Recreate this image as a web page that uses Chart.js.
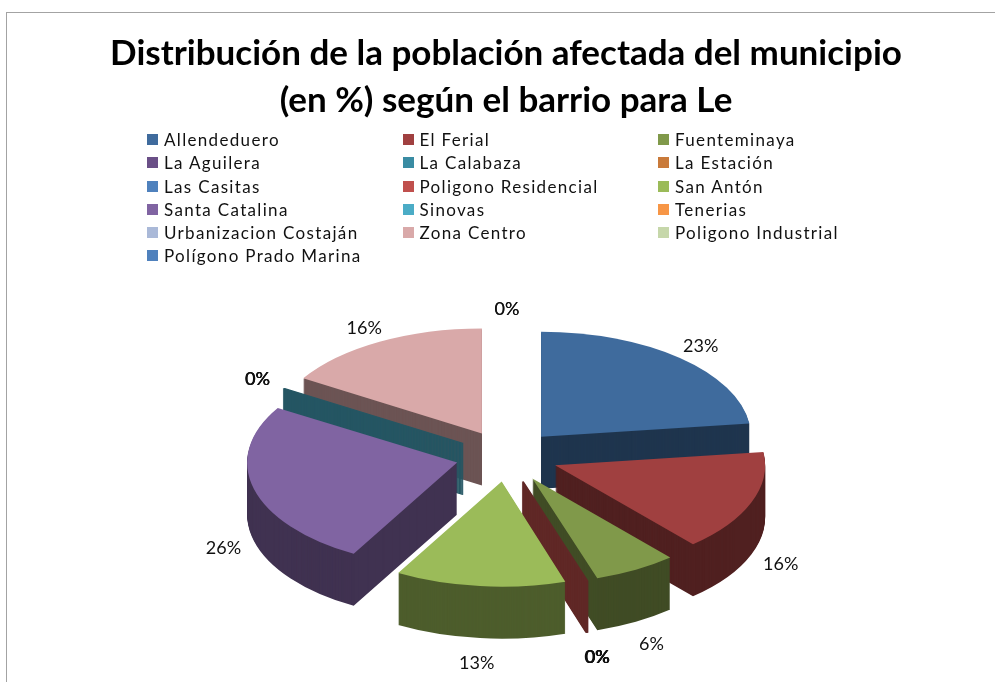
<!DOCTYPE html>
<html lang="es">
<head>
<meta charset="utf-8">
<title>Distribución de la población afectada</title>
<script src="https://cdn.jsdelivr.net/npm/chart.js@4"></script>
<style>
    html, body { margin: 0; padding: 0; background: #fff; overflow: hidden; }
    #wrap { position: relative; width: 995px; height: 682px; }
    #frame { position: absolute; left: 6px; top: 12px; right: 0; bottom: 0; border-left: 1.5px solid #a3a3a3; border-top: 1.5px solid #a3a3a3; }
    #pie { position: absolute; left: 0; top: 0; }
    #legend { position: absolute; left: 147px; top: 128px; display: grid; grid-template-columns: repeat(3, 255.5px); grid-auto-rows: 23.25px; font: 17px Lato, sans-serif; letter-spacing: 1.33px; color: #111; }
    #legend div { display: flex; align-items: center; white-space: nowrap; }
    #legend i { width: 11px; height: 11px; margin-right: 6px; flex: none; }
</style>
</head>
<body>
<div id="wrap">
    <div id="frame"></div>
    <canvas id="pie" width="995" height="682"></canvas>
    <div id="legend"></div>
</div>
<script>
const titleLines = ['Distribución de la población afectada del municipio', '(en %) según el barrio para Le'];

const barrios = ['Allendeduero', 'El Ferial', 'Fuenteminaya', 'La Aguilera', 'La Calabaza', 'La Estación',
    'Las Casitas', 'Poligono Residencial', 'San Antón', 'Santa Catalina', 'Sinovas', 'Tenerias',
    'Urbanizacion Costaján', 'Zona Centro', 'Poligono Industrial', 'Polígono Prado Marina'];

const poblacion = [23.0, 15.6, 6.4, 0, 0, 0, 0, 0.1, 13.1, 25.5, 0.1, 0, 0, 16.2, 0, 0];

const colores = ['#3f6b9d', '#a04040', '#80994a', '#6a4f87', '#3a8ca3', '#c97a3a', '#4f81bd', '#c0504d',
    '#9bbb59', '#8064a2', '#4bacc6', '#f79646', '#aab9d8', '#d9a9a9', '#c6d7aa', '#4f81bd'];

// the fake 3D look
const centerX = 507, centerY = 456;
const squash = 0.5;
const explode = 51.5;
const depth = 52;
const labelDist = 293;

function darken(hex) {
    const n = parseInt(hex.slice(1), 16);
    return `rgb(${(n >> 16) >> 1}, ${((n >> 8) & 255) >> 1}, ${(n & 255) >> 1})`;
}

// draws the arcs chart.js laid out: squashed, pushed out from the centre, walls first
const pie3d = {
    id: 'pie3d',
    beforeDatasetsDraw(chart) {
        const ctx = chart.ctx;
        const arcs = chart.getDatasetMeta(0).data;
        const mid = a => (a.startAngle + a.endAngle) / 2;
        const order = arcs.map((a, i) => i).sort((p, q) => Math.sin(mid(arcs[p])) - Math.sin(mid(arcs[q])));

        order.forEach(i => {
            const a = arcs[i];
            const ex = Math.cos(mid(a)) * explode;
            const ey = Math.sin(mid(a)) * explode * squash;
            const put = dy => {
                ctx.save();
                ctx.translate(centerX + ex, centerY + ey + dy);
                ctx.scale(1, squash);
                ctx.translate(-a.x, -a.y);
                a.draw(ctx);
                ctx.restore();
            };
            const top = a.options;
            const wall = darken(colores[i]);
            // tiny slices need a stroke or their wall fades out near the tip
            const tiny = poblacion[i] < 1;
            a.options = Object.assign({}, top, { backgroundColor: wall, borderColor: wall, borderWidth: tiny ? 2 : 0 });
            for (let dy = depth; dy >= 1; dy--) put(dy);
            a.options = top;
            if (!tiny) put(0);
        });

        // percent labels, the zero ones land on top of each other like in the original
        const total = poblacion.reduce((s, v) => s + v, 0);
        ctx.save();
        ctx.font = '18px Lato, sans-serif';
        ctx.fillStyle = '#111';
        ctx.textAlign = 'center';
        ctx.textBaseline = 'middle';
        arcs.forEach((a, i) => {
            const s = Math.sin(mid(a));
            const x = centerX + Math.cos(mid(a)) * labelDist;
            const y = centerY + s * labelDist * squash + (s > 0.01 ? 53 + 9 * s : 0);
            ctx.fillText(Math.round(poblacion[i] / total * 100) + '%', x, y);
        });
        ctx.restore();
        return false;
    }
};

new Chart(document.getElementById('pie'), {
    type: 'pie',
    data: {
        labels: barrios,
        datasets: [{
            data: poblacion,
            backgroundColor: colores,
            borderWidth: 0
        }]
    },
    options: {
        responsive: false,
        animation: false,
        radius: 210,
        layout: { padding: { left: 17, top: 31 } },
        plugins: {
            legend: { display: false },
            tooltip: { enabled: false },
            title: {
                display: true,
                text: titleLines,
                color: '#000',
                font: { family: 'Lato', size: 35, weight: 'bold', lineHeight: 1.32 },
                padding: 0
            }
        }
    },
    plugins: [pie3d]
});

// legend is three fixed columns, chart.js legend can't line those up
const legend = document.getElementById('legend');
barrios.forEach((b, i) => {
    const item = document.createElement('div');
    const box = document.createElement('i');
    box.style.background = colores[i];
    item.appendChild(box);
    item.appendChild(document.createTextNode(b));
    legend.appendChild(item);
});
</script>
</body>
</html>
